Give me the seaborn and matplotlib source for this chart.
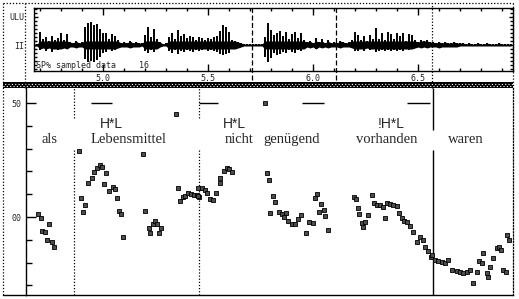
import numpy as np
import matplotlib
matplotlib.use("Agg")
import matplotlib.pyplot as plt
import seaborn as sns
from matplotlib.lines import Line2D
from matplotlib.ticker import MultipleLocator, FixedLocator

# ---------------- data ----------------
# waveform envelope (amplitude units), one value per ~14 ms frame
wave_start, wave_end = 4.6714, 6.9429
wave_up = [1, 1, 13, 6, 8, 4, 9, 5, 7, 12, 5, 11, 3, 2, 4, 2, 3,
           18, 22, 23, 20, 21, 16, 12, 12, 6, 11, 9, 5,
           2, 3, 2, 4, 2, 3, 2, 2, 10, 18, 8, 16, 6, 3, 1, 2,
           8, 12, 6, 15, 9, 11, 7, 9, 8, 5, 8, 7, 5, 7, 6, 8, 9,
           14, 20, 18, 13, 5, 4, 3, 2, 1, 1, 1, 1, 1, 1, 1,
           8, 22, 15, 10, 12, 14, 9, 13, 6, 11, 13, 7, 12, 5,
           3, 4, 2, 7, 3, 6, 2, 5, 2, 3, 2, 4, 3, 2, 3, 5, 13,
           10, 5, 9, 4, 10, 6, 17, 6, 12, 5, 13, 11, 6, 12, 9, 12, 4, 11, 10,
           5, 3, 5, 4, 5, 3, 3, 2, 3, 2, 3, 2, 2, 3, 2, 2,
           2, 1, 2, 1, 1, 2, 1, 1, 2, 1, 1, 1, 2, 1, 1, 1, 1]
wave_dn = [1, 1, 5, 3, 6, 3, 7, 4, 5, 4, 3, 4, 2, 2, 3, 2, 2,
           14, 17, 16, 17, 15, 12, 8, 7, 4, 6, 5, 3,
           2, 2, 2, 3, 2, 2, 2, 1, 6, 8, 5, 7, 4, 2, 1, 1,
           6, 8, 5, 9, 6, 7, 5, 6, 7, 5, 6, 5, 4, 6, 5, 6, 7,
           9, 10, 9, 8, 4, 4, 3, 2, 1, 1, 1, 1, 1, 1, 1,
           12, 17, 13, 8, 10, 9, 7, 8, 5, 7, 8, 5, 6, 4,
           2, 3, 2, 4, 2, 3, 2, 3, 2, 2, 2, 3, 2, 2, 2, 3, 6,
           6, 4, 6, 3, 5, 4, 7, 6, 5, 6, 5, 6, 5, 6, 5, 6, 4, 5, 4,
           3, 2, 3, 2, 3, 2, 2, 2, 3, 2, 2, 2, 2, 2, 2, 1,
           1, 1, 1, 1, 1, 1, 1, 1, 1, 1, 1, 1, 1, 1, 1, 1, 1]

# F0 track (s, Hz)
pitch_time = [4.692, 4.703, 4.711, 4.724, 4.732, 4.743, 4.756, 4.767,
              4.884, 4.895, 4.903, 4.916, 4.927, 4.948, 4.959, 4.971, 4.986, 4.995,
              5.003, 5.014, 5.030, 5.046, 5.056, 5.065, 5.075, 5.086, 5.094,
              5.192, 5.201, 5.220, 5.224, 5.237, 5.246, 5.256, 5.265, 5.276,
              5.348, 5.356, 5.367, 5.380, 5.390, 5.403, 5.419, 5.435, 5.446, 5.459,
              5.451, 5.454, 5.470, 5.486, 5.494, 5.510, 5.525, 5.538, 5.557, 5.557,
              5.578, 5.592, 5.602, 5.613,
              5.771, 5.780, 5.790, 5.795, 5.810, 5.821, 5.840, 5.852, 5.863, 5.871,
              5.881, 5.899, 5.914, 5.930, 5.943, 5.969, 5.981, 5.998, 6.010, 6.019,
              6.030, 6.038, 6.052, 6.057, 6.071,
              6.195, 6.205, 6.216, 6.219, 6.232, 6.240, 6.248, 6.262, 6.280, 6.290,
              6.303, 6.319, 6.332, 6.343, 6.351, 6.367, 6.382, 6.399, 6.411, 6.422,
              6.433, 6.446, 6.462, 6.478, 6.494, 6.510, 6.522, 6.533, 6.549, 6.560, 6.565,
              6.581, 6.597, 6.613, 6.629, 6.644, 6.660, 6.684, 6.700, 6.716, 6.732,
              6.748, 6.763, 6.780, 6.792, 6.803, 6.811, 6.827, 6.835, 6.843, 6.859,
              6.875, 6.887, 6.894, 6.906, 6.919, 6.922, 6.933]
pitch_hz = [101.2, 99.4, 94.0, 93.4, 89.9, 96.8, 89.2, 86.7,
            128.9, 108.2, 102.3, 105.4, 114.8, 117.1, 119.9, 121.5, 122.8, 121.9,
            114.3, 119.4, 111.4, 113.3, 112.4, 108.2, 102.8, 101.3, 91.4,
            127.6, 102.8, 95.3, 93.1, 96.8, 98.4, 96.9, 93.1, 95.0,
            145.2, 112.6, 107.0, 108.9, 109.2, 110.4, 110.1, 109.6, 109.6, 108.9,
            109.2, 112.6, 112.6, 111.8, 110.4, 107.8, 107.5, 110.7, 114.8, 117.2,
            120.3, 121.4, 121.1, 119.9,
            149.9, 119.2, 116.2, 101.8, 109.4, 106.7, 102.3, 101.5, 100.1, 101.9,
            98.2, 97.1, 97.1, 99.3, 100.7, 93.2, 97.9, 97.4, 108.2, 110.1,
            102.3, 105.7, 103.1, 100.4, 94.3,
            108.8, 107.9, 103.8, 101.5, 97.2, 95.8, 97.9, 101.1, 109.6, 106.3,
            105.3, 105.3, 104.3, 99.7, 106.3, 105.7, 105.3, 104.8, 101.6, 99.4,
            98.4, 97.9, 96.1, 93.6, 88.9, 91.4, 89.9, 87.0, 85.1, 82.3, 83.3,
            81.1, 80.8, 80.4, 80.0, 81.1, 76.8, 76.4, 76.0, 75.6, 76.0,
            76.8, 70.9, 76.0, 80.8, 79.7, 84.1, 75.3, 73.6, 78.2, 81.9,
            86.3, 87.0, 85.5, 76.8, 76.0, 92.1, 89.9]

words = ["als", "Lebensmittel", "nicht", "genügend", "vorhanden", "waren"]
word_time = [4.743, 5.124, 5.648, 5.900, 6.352, 6.729]
tones = ["H*L", "H*L", "!H*L"]
tone_time = [5.040, 5.626, 6.371]
target_start = [4.943, 5.457, 5.948, 6.448]
target_end = [5.043, 5.548, 6.052, 6.557]
target_level = 150
bound_dotted = [4.862, 5.457]
bound_solid = [6.571]
wave_dashed = [5.710, 6.110]
wave_dotted = [6.567]
time_ticks = [5.0, 5.5, 6.0, 6.5]
time_labels = ["5.0", "5.5", "6.0", "6.5"]
amp_ticks = [0, 28]
amp_labels = ["II", "ULU"]
hz_ticks = [100, 150]
hz_labels = ["00", "50"]

# ---------------- figure ----------------
sns.set_style("white")
plt.rcParams['font.family'] = ['DejaVu Sans']
W, H = 519, 299
fig = plt.figure(figsize=(W / 100, H / 100), dpi=100)


def rect(x0, y0, x1, y1):
    return [x0 / W, 1 - y1 / H, (x1 - x0) / W, (y1 - y0) / H]


def fline(x0, y0, x1, y1, **kw):
    fig.add_artist(Line2D([x0 / W, x1 / W], [1 - y0 / H, 1 - y1 / H],
                          transform=fig.transFigure, color="black", **kw))


mono = "DejaVu Sans Mono"

# waveform panel
axw = fig.add_axes(rect(34, 8, 513, 71))
t = np.linspace(wave_start, wave_end, len(wave_up))
up = np.array(wave_up, float)
dn = np.array(wave_dn, float)
axw.fill_between(t, -np.minimum(dn, 4), np.minimum(up, 4), color="black", lw=0)
axw.vlines(t, -dn, up, color="black", lw=1.4)
axw.set_xlim(4.6714, 6.9524)
axw.set_ylim(-26, 37)
for s in axw.spines.values():
    s.set_visible(True)
    s.set_color("black")
    s.set_linewidth(1.0)
axw.xaxis.set_major_locator(FixedLocator(time_ticks))
axw.set_xticklabels(time_labels, fontfamily=mono, fontsize=6)
axw.xaxis.set_minor_locator(MultipleLocator(0.1))
axw.tick_params(axis="x", which="both", direction="in", top=True, bottom=True,
                color="black", pad=2)
axw.tick_params(axis="x", which="major", length=5, width=1)
axw.tick_params(axis="x", which="minor", length=2.5, width=1)
axw.yaxis.set_major_locator(FixedLocator(amp_ticks))
axw.set_yticklabels(amp_labels, fontfamily=mono, fontsize=6)
axw.yaxis.set_minor_locator(MultipleLocator(4))
axw.tick_params(axis="y", which="both", direction="in", left=True, right=True,
                color="black", pad=7)
axw.tick_params(axis="y", which="major", length=3, width=1)
axw.tick_params(axis="y", which="minor", length=2, width=1)
for x in wave_dashed:
    axw.axvline(x, ymin=-0.14, ymax=1.05, color="black", lw=0.9,
                ls=(0, (4, 2)), clip_on=False)
for x in wave_dotted:
    axw.axvline(x, ymin=-0.27, ymax=1.08, color="black", lw=0.9,
                ls=(0, (1, 1.5)), clip_on=False)
axw.text(0.004, 0.01, "SP% sampled data", transform=axw.transAxes,
         fontfamily=mono, fontsize=6, va="bottom", ha="left")
axw.text(0.219, 0.01, "16", transform=axw.transAxes,
         fontfamily=mono, fontsize=6, va="bottom", ha="left")

# hatched band
axb = fig.add_axes(rect(3, 81.5, 513, 88))
axb.set_facecolor("black")
axb.set_xlim(0, 1)
axb.set_ylim(0, 1)
axb.set_xticks([])
axb.set_yticks([])
for s in axb.spines.values():
    s.set_visible(False)
axb.axhline(0.38, color="white", lw=0.8, ls=(0, (1, 2)))
axb.axhline(0.62, color="white", lw=0.8, ls=(1.5, (1, 2)))

# pitch panel
axp = fig.add_axes(rect(26, 88, 513, 295))
axp.set_facecolor("none")
sns.scatterplot(x=pitch_time, y=pitch_hz, ax=axp, marker="s", s=8,
                facecolor="0.3", edgecolor="black", linewidth=0.6,
                legend=False, zorder=3)
axp.set_xlim(4.6333, 6.9524)
axp.set_ylim(65.8, 156.6)
axp.spines["top"].set_visible(False)
axp.spines["right"].set_visible(True)
axp.spines["right"].set_linestyle((0, (1, 1.5)))
axp.spines["right"].set_linewidth(0.9)
for k in ("left", "bottom"):
    axp.spines[k].set_visible(True)
    axp.spines[k].set_color("black")
    axp.spines[k].set_linewidth(1.0)
axp.spines["right"].set_color("black")
axp.set_xticks([])
axp.yaxis.set_major_locator(FixedLocator(hz_ticks))
axp.set_yticklabels(hz_labels, fontfamily=mono, fontsize=6)
axp.yaxis.set_minor_locator(MultipleLocator(10))
axp.tick_params(axis="y", which="both", direction="in", left=True, color="black", pad=3)
axp.tick_params(axis="y", which="major", length=7, width=1)
axp.tick_params(axis="y", which="minor", length=4, width=1)

axp.hlines([target_level] * len(target_start), target_start, target_end,
           color="black", lw=1.0)
for x in bound_dotted:
    axp.vlines(x, 143.4, 156.6, color="black", lw=0.9, ls=(0, (1, 1.5)))
    axp.vlines(x, 65.8, 129.4, color="black", lw=0.9, ls=(0, (1, 1.5)))
for x in bound_solid:
    axp.vlines(x, 138.2, 156.6, color="black", lw=1.0)
    axp.vlines(x, 65.8, 129.4, color="black", lw=1.0)

for w, x in zip(words, word_time):
    axp.text(x, 133.8, w, ha="center", va="center",
             fontfamily="Liberation Serif", fontsize=10.5)
for tn, x in zip(tones, tone_time):
    axp.text(x, 140.8, tn, ha="center", va="center",
             fontfamily="Liberation Sans", fontsize=10)

# frame decorations
dot = dict(lw=0.9, ls=(0, (1, 1.5)))
fline(3, 3, 513, 3, **dot)
fline(3, 3, 3, 295, **dot)
fline(513, 3, 513, 88, **dot)
fline(25, 3, 25, 88, **dot)
fline(3, 295, 26, 295, lw=1.0)

fig.savefig("out.png", dpi=100)
